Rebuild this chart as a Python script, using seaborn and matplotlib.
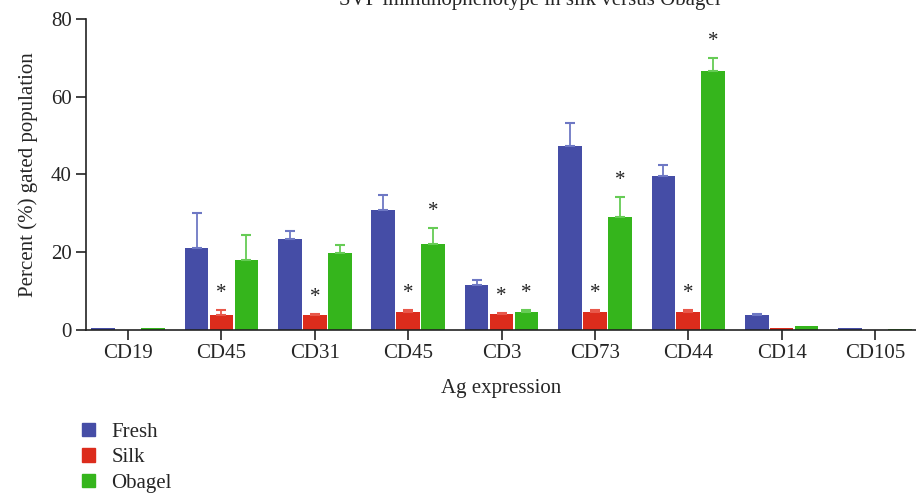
import numpy as np
import pandas as pd
import seaborn as sns
import matplotlib.pyplot as plt

# ---- data ----
markers = ["CD19", "CD45", "CD31", "CD45", "CD3", "CD73", "CD44", "CD14", "CD105"]
groups = ["Fresh", "Silk", "Obagel"]

fresh = [0.5, 21.1, 23.4, 30.9, 11.6, 47.3, 39.6, 3.9, 0.5]
silk = [0.0, 3.9, 3.9, 4.6, 4.1, 4.6, 4.6, 0.5, 0.0]
obagel = [0.5, 18.0, 19.8, 22.1, 4.6, 29.1, 66.6, 1.0, 0.3]

fresh_err = [0.0, 8.9, 2.1, 3.8, 1.1, 6.0, 2.8, 0.3, 0.0]
silk_err = [0.0, 1.2, 0.2, 0.6, 0.3, 0.6, 0.6, 0.0, 0.0]
obagel_err = [0.0, 6.4, 1.9, 4.2, 0.4, 5.2, 3.4, 0.0, 0.0]

# significance marks (True = asterisk above the bar)
silk_sig = [False, True, True, True, True, True, True, False, False]
obagel_sig = [False, False, False, True, True, True, True, False, False]

colors = ["#454DA6", "#DC2C1C", "#35B51C"]
err_colors = ["#6E78C4", "#E8584A", "#66CC55"]

# long table for seaborn (index keeps the two CD45 groups apart)
rows = []
for i in range(len(markers)):
    for g, vals in zip(groups, [fresh, silk, obagel]):
        rows.append({"pos": str(i), "group": g, "value": vals[i]})
df = pd.DataFrame(rows)

sns.set_style("white")
plt.rcParams["font.family"] = ["Liberation Serif", "DejaVu Serif"]
fs = 15

fig = plt.figure(figsize=(9.16, 4.96), dpi=100)
ax = fig.add_axes([0.094, 0.335, 0.906, 0.627])

sns.barplot(data=df, x="pos", y="value", hue="group", hue_order=groups,
            palette=colors, saturation=1, width=0.8, gap=0.05, linewidth=0,
            errorbar=None, ax=ax, legend=False)

# one-sided error bars and asterisks, placed on the drawn bars
errs = [fresh_err, silk_err, obagel_err]
sigs = [None, silk_sig, obagel_sig]
bar_conts = list(ax.containers)
for j, cont in enumerate(bar_conts):
    for i, bar in enumerate(cont.patches):
        xc = bar.get_x() + bar.get_width() / 2
        h = bar.get_height()
        e = errs[j][i]
        if e > 0:
            ax.errorbar(xc, h, yerr=[[0], [e]], fmt="none", ecolor=err_colors[j],
                        elinewidth=1.3, capsize=3.8, capthick=1.5, zorder=1)
        if sigs[j] is not None and sigs[j][i]:
            ax.annotate("*", (xc, h + e), xytext=(0, 5), textcoords="offset points",
                        ha="center", va="bottom", fontsize=15, color="#222222")

ax.set_xlim(-0.45, 8.44)
ax.set_ylim(0, 80)
ax.set_yticks([0, 20, 40, 60, 80])
ax.set_xticks(range(len(markers)))
ax.set_xticklabels(markers)
ax.tick_params(axis="both", labelsize=fs, length=7, width=1.2, color="#222222",
               direction="out", left=True, bottom=True)
ax.set_xlabel("Ag expression", fontsize=fs, labelpad=11)
ax.set_ylabel("Percent (%) gated population", fontsize=fs, labelpad=9)
sns.despine(ax=ax)
for s in ["left", "bottom"]:
    ax.spines[s].set_color("#222222")
    ax.spines[s].set_linewidth(1.2)

# title, cropped at the top edge like the reference
fig.text(0.578, 1.0, "SVF immunophenotype in silk versus Obagel",
         ha="center", va="center", fontsize=fs)

# legend below the plot
handles = [plt.Rectangle((0, 0), 1, 1, color=c) for c in colors]
fig.legend(handles, groups, loc="upper left", bbox_to_anchor=(0.09, 0.148),
           frameon=False, fontsize=fs, handlelength=0.6, handleheight=0.6,
           labelspacing=0.32, handletextpad=0.8, borderaxespad=0, borderpad=0)

fig.savefig("out.png", dpi=100)
